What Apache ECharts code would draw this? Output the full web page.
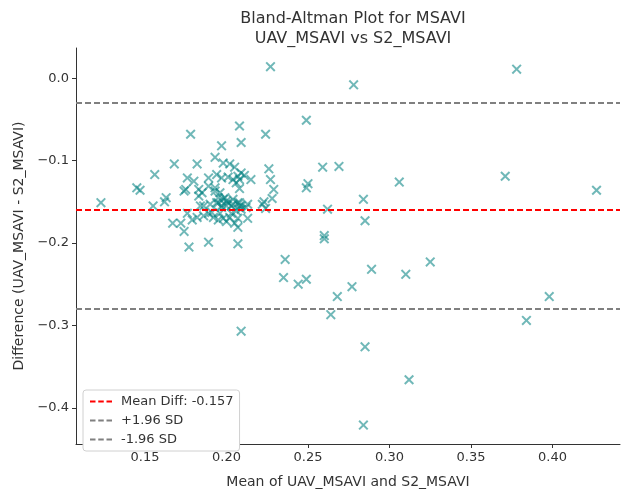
<!DOCTYPE html>
<html>
<head>
<meta charset="utf-8">
<script src="https://cdn.jsdelivr.net/npm/echarts@6/dist/echarts.min.js"></script>
<style>
    html, body { margin: 0; padding: 0; background: #fff; }
    #chart { width: 621px; height: 494px; }
</style>
</head>
<body>
<div id="chart"></div>
<script>
// 均值 (x) 与差值 (y)
var meanVals = [
    0.227, 0.378, 0.278, 0.249, 0.178, 0.208, 0.224, 0.209, 0.197, 0.193,
    0.168, 0.182, 0.156, 0.145, 0.147, 0.123, 0.155, 0.163, 0.162, 0.259,
    0.269, 0.306, 0.371, 0.427, 0.284, 0.262, 0.249, 0.250, 0.226, 0.227,
    0.229, 0.228, 0.223, 0.222, 0.224, 0.215, 0.260, 0.260, 0.285, 0.236,
    0.235, 0.244, 0.249, 0.277, 0.289, 0.268, 0.310, 0.325, 0.398, 0.384,
    0.264, 0.209, 0.285, 0.312, 0.284,
    0.198, 0.202, 0.205, 0.207, 0.208, 0.201, 0.204, 0.206, 0.209, 0.211,
    0.189, 0.176, 0.180, 0.208, 0.175, 0.183, 0.185, 0.183, 0.193, 0.196,
    0.195, 0.198, 0.195, 0.200, 0.197, 0.184, 0.203, 0.208, 0.194, 0.197,
    0.189, 0.193, 0.199, 0.201, 0.204, 0.207, 0.209, 0.174,
    0.186, 0.190, 0.194, 0.197, 0.200, 0.204, 0.208, 0.213, 0.176, 0.167,
    0.172, 0.174, 0.179, 0.182, 0.186, 0.189, 0.191, 0.192, 0.196, 0.195,
    0.198, 0.200, 0.202, 0.203, 0.206, 0.207, 0.205, 0.209, 0.212, 0.213,
    0.207, 0.177, 0.189, 0.207
];
var diffVals = [
    0.014, 0.011, -0.008, -0.051, -0.068, -0.058, -0.068, -0.078, -0.082, -0.096,
    -0.104, -0.104, -0.117, -0.133, -0.136, -0.151, -0.155, -0.145, -0.150, -0.108,
    -0.107, -0.126, -0.119, -0.136, -0.147, -0.159, -0.133, -0.128, -0.110, -0.123,
    -0.135, -0.146, -0.150, -0.153, -0.158, -0.123, -0.191, -0.195, -0.173, -0.220,
    -0.242, -0.250, -0.244, -0.253, -0.232, -0.265, -0.238, -0.223, -0.265, -0.294,
    -0.287, -0.307, -0.326, -0.366, -0.421,
    -0.103, -0.104, -0.108, -0.119, -0.123, -0.120, -0.123, -0.127, -0.115, -0.118,
    -0.121, -0.121, -0.125, -0.134, -0.135, -0.135, -0.139, -0.143, -0.133, -0.139,
    -0.145, -0.147, -0.151, -0.149, -0.155, -0.155, -0.155, -0.151, -0.117, -0.121,
    -0.131, -0.137, -0.145, -0.151, -0.147, -0.151, -0.155, -0.137,
    -0.155, -0.153, -0.151, -0.157, -0.155, -0.153, -0.155, -0.153, -0.164, -0.176,
    -0.176, -0.186, -0.172, -0.169, -0.167, -0.164, -0.163, -0.169, -0.164, -0.172,
    -0.170, -0.174, -0.169, -0.164, -0.161, -0.170, -0.176, -0.159, -0.157, -0.170,
    -0.181, -0.205, -0.199, -0.201
];

// 均值差与一致性界限
var meanDiff = -0.157;
var upperLimit = -0.032;
var lowerLimit = -0.282;

// 刻度
var xTicks = [0.15, 0.20, 0.25, 0.30, 0.35, 0.40];
var yTicks = [0.0, -0.1, -0.2, -0.3, -0.4];

var seriesNames = ['Mean Diff: ' + meanDiff.toFixed(3), '+1.96 SD', '-1.96 SD'];

(function () {
    var FONT = 'DejaVu Sans';
    var TEXT = '#333333';

    // x 形标记
    var crossPath = 'path://M0,1.4L1.4,0L5,3.6L8.6,0L10,1.4L6.4,5L10,8.6L8.6,10L5,6.4L1.4,10L0,8.6L3.6,5Z';
    // 图例里的虚线
    var dashIcon = 'path://M0,0h6v2h-6z M9,0h6v2h-6z M18,0h6v2h-6z';

    var points = meanVals.map(function (v, i) { return [v, diffVals[i]]; });

    function refLine(name, value, color) {
        return {
            name: name,
            type: 'line',
            data: [],
            symbol: 'none',
            lineStyle: { color: color, width: 2, type: [6, 3] },
            itemStyle: { color: color },
            markLine: {
                silent: true,
                symbol: 'none',
                label: { show: false },
                lineStyle: { color: color, width: 2, type: [6, 3] },
                data: [{ yAxis: value }]
            }
        };
    }

    var option = {
        animation: false,
        textStyle: { fontFamily: FONT },
        title: {
            text: 'Bland-Altman Plot for MSAVI\nUAV_MSAVI vs S2_MSAVI',
            left: 348,
            top: 4,
            textAlign: 'center',
            textStyle: { fontFamily: FONT, fontSize: 16, fontWeight: 'normal', color: TEXT, lineHeight: 20 }
        },
        legend: {
            data: seriesNames.map(function (n) { return { name: n, icon: dashIcon }; }),
            orient: 'vertical',
            left: 83,
            top: 390,
            itemWidth: 22,
            itemHeight: 2,
            itemGap: 6,
            padding: [5, 6, 5, 7],
            backgroundColor: '#ffffff',
            borderColor: '#d0d0d0',
            borderWidth: 1,
            borderRadius: 3,
            textStyle: { fontFamily: FONT, fontSize: 13, color: TEXT, padding: [0, 0, 0, 4] }
        },
        grid: { left: 76, right: 1, top: 48, bottom: 39, containLabel: false },
        xAxis: {
            type: 'value',
            min: 0.1077,
            max: 0.4414,
            name: 'Mean of UAV_MSAVI and S2_MSAVI',
            nameLocation: 'middle',
            nameGap: 31,
            nameTextStyle: { fontFamily: FONT, fontSize: 14, color: TEXT },
            axisLine: { onZero: false, lineStyle: { color: '#333', width: 1 } },
            axisTick: { inside: false, length: 4, customValues: xTicks, lineStyle: { color: '#333' } },
            axisLabel: {
                customValues: xTicks,
                fontFamily: FONT, fontSize: 13, color: TEXT, margin: 7,
                formatter: function (v) { return v.toFixed(2); }
            },
            splitLine: { show: false }
        },
        yAxis: {
            type: 'value',
            min: -0.444,
            max: 0.0367,
            name: 'Difference (UAV_MSAVI - S2_MSAVI)',
            nameLocation: 'middle',
            nameGap: 45,
            nameTextStyle: { fontFamily: FONT, fontSize: 14, color: TEXT },
            axisLine: { show: true, onZero: false, lineStyle: { color: '#333', width: 1 } },
            axisTick: { show: true, inside: false, length: 4, customValues: yTicks, lineStyle: { color: '#333' } },
            axisLabel: {
                customValues: yTicks,
                fontFamily: FONT, fontSize: 13, color: TEXT, margin: 7,
                formatter: function (v) { return v.toFixed(1).replace('-', '\u2212'); }
            },
            splitLine: { show: false }
        },
        series: [
            {
                name: 'points',
                type: 'scatter',
                data: points,
                symbol: crossPath,
                symbolSize: 10,
                itemStyle: { color: 'rgba(0,128,128,0.7)' },
                z: 3
            },
            refLine(seriesNames[0], meanDiff, '#ff0000'),
            refLine(seriesNames[1], upperLimit, '#808080'),
            refLine(seriesNames[2], lowerLimit, '#808080')
        ]
    };

    var myechart = echarts.init(document.getElementById('chart'));
    myechart.setOption(option);
})();
</script>
</body>
</html>
